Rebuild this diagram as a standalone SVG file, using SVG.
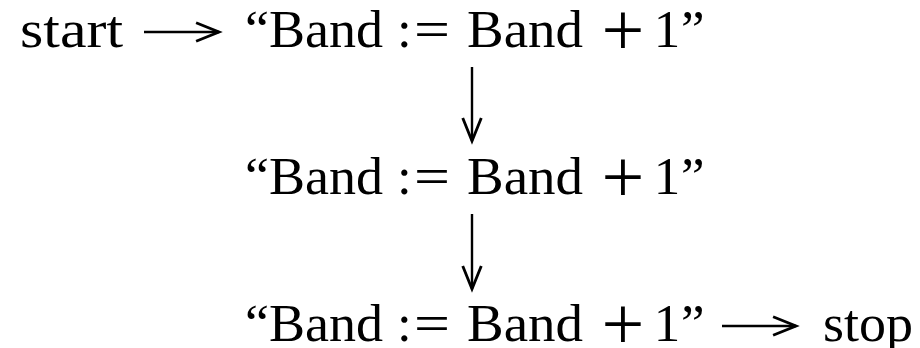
<svg xmlns="http://www.w3.org/2000/svg" width="920" height="348" viewBox="0 0 920 348">
  <style>
    .t { font-family: "Liberation Serif", "Times New Roman", serif; font-size: 53px; fill: #000; }
    .m { text-anchor: middle; }
    .p { font-size: 76px; }
    .c { stroke: #000; stroke-width: 2.4; fill: none; }
  </style>
  <defs>
    <marker id="ah" markerUnits="userSpaceOnUse" markerWidth="30" markerHeight="24" viewBox="-23 -11 25 22" refX="0" refY="0" orient="auto">
      <path d="M-21,-8.5 L0,0 L-21,8.5" stroke="#000" stroke-width="2.6" fill="none" stroke-linejoin="miter"/>
    </marker>
  </defs>
  <rect width="920" height="348" fill="#fff"/>

  <g id="start">
    <text class="t" x="20" y="47" textLength="103" lengthAdjust="spacingAndGlyphs">start</text>
  </g>

  <g id="n1">
    <text class="t" x="245" y="47" textLength="138" lengthAdjust="spacingAndGlyphs">“Band</text>
    <text class="t" x="397" y="47">:</text>
    <text class="t" x="414" y="47" textLength="36" lengthAdjust="spacingAndGlyphs">=</text>
    <text class="t" x="467" y="47" textLength="116" lengthAdjust="spacingAndGlyphs">Band</text>
    <text class="t m p" x="623" y="55">+</text>
    <text class="t m" x="667" y="47">1</text>
    <text class="t" x="681" y="47">”</text>
  </g>

  <g id="n2">
    <text class="t" x="245" y="194" textLength="138" lengthAdjust="spacingAndGlyphs">“Band</text>
    <text class="t" x="397" y="194">:</text>
    <text class="t" x="414" y="194" textLength="36" lengthAdjust="spacingAndGlyphs">=</text>
    <text class="t" x="467" y="194" textLength="116" lengthAdjust="spacingAndGlyphs">Band</text>
    <text class="t m p" x="623" y="202">+</text>
    <text class="t m" x="667" y="194">1</text>
    <text class="t" x="681" y="194">”</text>
  </g>

  <g id="n3">
    <text class="t" x="245" y="341" textLength="138" lengthAdjust="spacingAndGlyphs">“Band</text>
    <text class="t" x="397" y="341">:</text>
    <text class="t" x="414" y="341" textLength="36" lengthAdjust="spacingAndGlyphs">=</text>
    <text class="t" x="467" y="341" textLength="116" lengthAdjust="spacingAndGlyphs">Band</text>
    <text class="t m p" x="623" y="349">+</text>
    <text class="t m" x="667" y="341">1</text>
    <text class="t" x="681" y="341">”</text>
  </g>

  <g id="stop">
    <text class="t" x="823" y="341" textLength="90" lengthAdjust="spacingAndGlyphs">stop</text>
  </g>

  <g id="connectors">
    <line class="c" x1="144" y1="32" x2="219" y2="32" marker-end="url(#ah)"/>
    <line class="c" x1="472" y1="67" x2="472" y2="141" marker-end="url(#ah)"/>
    <line class="c" x1="472" y1="214" x2="472" y2="289" marker-end="url(#ah)"/>
    <line class="c" x1="722" y1="326" x2="796" y2="326" marker-end="url(#ah)"/>
  </g>
</svg>
